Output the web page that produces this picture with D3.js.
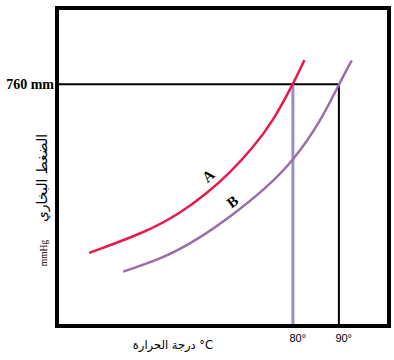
<!DOCTYPE html>
<html><head><meta charset="utf-8">
<script src="https://cdn.jsdelivr.net/npm/d3@7"></script>
<style>html,body{margin:0;padding:0;background:#fff;}</style>
</head><body>
<svg id="c" width="394" height="360"></svg>
<script>
// Data: temperature (°C) vs vapour pressure (mmHg)
const tempA = [35.7, 48.2, 55.5, 61.3, 66.3, 71.3, 75.7, 80.0, 82.5];
const presA = [230, 296, 355, 417, 482, 560, 645, 760, 836];
const tempB = [43.1, 51.8, 59.1, 67.0, 74.3, 80.1, 85.9, 90.0, 92.8];
const presB = [171, 213, 270, 350, 435, 520, 640, 760, 835];
const xTicks = [80, 90];
const xTickLabels = ["80°", "90°"];
const yTicks = [760];
const yTickLabels = ["760 mm"];
const refTemps = [80, 90];
const refPressure = 760;

const svg = d3.select("#c");
const L = 57, R = 389, T = 8, B = 326;
const x = d3.scaleLinear().domain([28.7, 100.9]).range([L, R]);
const y = d3.scaleLinear().domain([0, 1000]).range([B, T]);

// reference lines
svg.append("line").attr("x1", L).attr("x2", x(90)).attr("y1", y(refPressure)).attr("y2", y(refPressure))
  .attr("stroke", "#000").attr("stroke-width", 2);
svg.append("line").attr("x1", x(refTemps[0])).attr("x2", x(refTemps[0])).attr("y1", y(refPressure)).attr("y2", B)
  .attr("stroke", "#9a90c4").attr("stroke-width", 3);
svg.append("line").attr("x1", x(refTemps[1])).attr("x2", x(refTemps[1])).attr("y1", y(refPressure)).attr("y2", B)
  .attr("stroke", "#000").attr("stroke-width", 2);

const line = d3.line().x(d => x(d[0])).y(d => y(d[1])).curve(d3.curveBasis);
svg.append("path").attr("d", line(d3.zip(tempA, presA))).attr("fill", "none")
  .attr("stroke", "#e61a4c").attr("stroke-width", 2.5);
svg.append("path").attr("d", line(d3.zip(tempB, presB))).attr("fill", "none")
  .attr("stroke", "#9a6ea8").attr("stroke-width", 2.5);

// frame
svg.append("rect").attr("x", L).attr("y", T).attr("width", R - L).attr("height", B - T)
  .attr("fill", "none").attr("stroke", "#000").attr("stroke-width", 4);

// x axis
const xa = svg.append("g").attr("transform", `translate(0,${B})`)
  .call(d3.axisBottom(x).tickValues(xTicks).tickSize(0).tickPadding(8)
    .tickFormat((d, i) => xTickLabels[i]));
xa.select(".domain").remove();
xa.selectAll("text").attr("font-family", "Liberation Sans, Arial, sans-serif").attr("font-size", 11)
  .attr("fill", "#000").attr("text-anchor", "start").attr("dx", -4);

// y axis
const ya = svg.append("g").attr("transform", `translate(${L},0)`)
  .call(d3.axisLeft(y).tickValues(yTicks).tickSize(0).tickPadding(3)
    .tickFormat((d, i) => yTickLabels[i]));
ya.select(".domain").remove();
ya.selectAll("text").attr("font-family", "Liberation Serif, Times New Roman, serif").attr("font-size", 14)
  .attr("font-weight", "bold").attr("fill", "#000");

// axis titles
svg.append("text").attr("transform", "translate(47,178) rotate(-90)").attr("text-anchor", "middle")
  .attr("font-family", "DejaVu Sans, sans-serif").attr("font-size", 14).text("الضغط البخاري");
svg.append("text").attr("transform", "translate(47,253) rotate(-90)").attr("text-anchor", "middle")
  .attr("font-family", "Liberation Serif, serif").attr("font-size", 9.5).text("mmHg");
svg.append("text").attr("x", 173).attr("y", 349).attr("text-anchor", "middle")
  .attr("font-family", "DejaVu Sans, sans-serif").attr("font-size", 11.5).text("درجة الحرارة °C");

// curve labels
svg.append("text").attr("transform", `translate(${x(62.3)},${y(460)}) rotate(-41)`).attr("text-anchor", "middle")
  .attr("font-family", "Liberation Serif, serif").attr("font-weight", "bold").attr("font-size", 15).text("A");
svg.append("text").attr("transform", `translate(${x(67.5)},${y(378)}) rotate(-37)`).attr("text-anchor", "middle")
  .attr("font-family", "Liberation Serif, serif").attr("font-weight", "bold").attr("font-size", 15).text("B");
</script>
</body></html>
